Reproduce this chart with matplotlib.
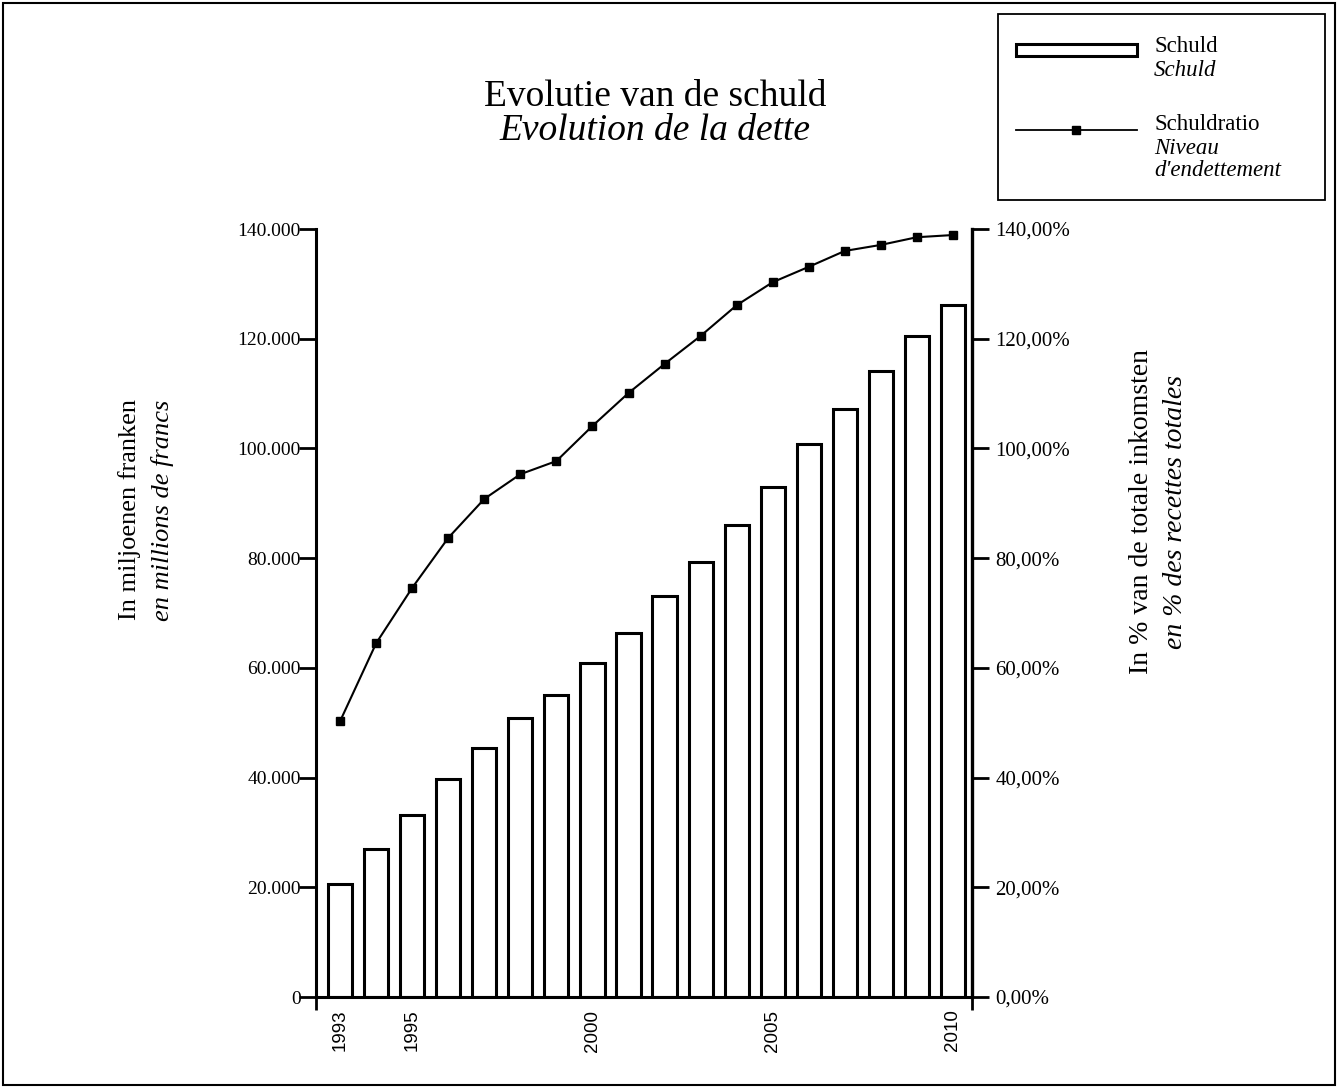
import matplotlib
matplotlib.use("Agg")
import matplotlib.pyplot as plt
from matplotlib.patches import Rectangle
from matplotlib.lines import Line2D
from matplotlib.ticker import FuncFormatter, FixedLocator

jaren = list(range(1993, 2011))
schuld = [20600, 27000, 33200, 39700, 45400, 50900, 55000, 60900, 66400,
          73100, 79300, 86000, 93000, 100800, 107200, 114100, 120500, 126100]
schuldratio = [50.3, 64.5, 74.6, 83.7, 90.8, 95.3, 97.7, 104.1, 110.1,
               115.4, 120.5, 126.1, 130.3, 133.1, 136.0, 137.1, 138.5, 138.9]
jaar_labels = [1993, 1995, 2000, 2005, 2010]

SERIF = "Liberation Serif"
SANS = "Liberation Sans"

W, H = 1338, 1088
fig = plt.figure(figsize=(W / 100, H / 100), dpi=100)


def fx(px):
    return px / W


def fy(py):
    return 1 - py / H


ax = fig.add_axes([fx(316), fy(997), fx(972) - fx(316), fy(229) - fy(997)])
x = list(range(len(jaren)))
ax.bar(x, schuld, width=0.67, color="white", edgecolor="black", linewidth=2.2, zorder=2)
ax.set_xlim(-0.67, len(jaren) - 1 + 0.53)
ax.set_ylim(0, 140000)
ax.set_yticks(range(0, 140001, 20000))
ax.yaxis.set_major_formatter(FuncFormatter(lambda v, p: "0" if v == 0 else f"{int(v):,}".replace(",", ".")))
ax.set_xticks([jaren.index(j) for j in jaar_labels])
ax.set_xticklabels([str(j) for j in jaar_labels], rotation=90, family=SANS, fontsize=13.5)
ax.xaxis.set_minor_locator(FixedLocator(list(ax.get_xlim())))
ax.tick_params(axis="x", which="major", length=0, pad=9)
ax.tick_params(axis="x", which="minor", length=9, width=2, direction="out")
ax.tick_params(axis="y", length=12, width=2, direction="out", labelsize=14, pad=-1)
for lab in ax.get_yticklabels():
    lab.set_family(SERIF)
ax.spines["top"].set_visible(False)
ax.spines["right"].set_visible(False)
for s in ("left", "bottom"):
    ax.spines[s].set_linewidth(2.2)

ax2 = ax.twinx()
ax2.plot(x, schuldratio, color="black", linewidth=1.5, marker="s", markersize=6, zorder=3)
ax2.set_ylim(0, 140)
ax2.set_yticks(range(0, 141, 20))
ax2.yaxis.set_major_formatter(FuncFormatter(lambda v, p: f"{v:.2f}".replace(".", ",") + "%"))
ax2.tick_params(axis="y", length=12, width=2, direction="out", labelsize=15, pad=5)
for lab in ax2.get_yticklabels():
    lab.set_family(SERIF)
for s in ("top", "left", "bottom"):
    ax2.spines[s].set_visible(False)
ax2.spines["right"].set_linewidth(2.4)

# titel
fig.text(fx(655), fy(97), "Evolutie van de schuld", ha="center", va="center", family=SERIF, fontsize=27)
fig.text(fx(655), fy(131), "Evolution de la dette", ha="center", va="center", family=SERIF,
         fontsize=27, style="italic")

# aslabels
fig.text(fx(130), fy(510), "In miljoenen franken", rotation=90, ha="center", va="center",
         family=SERIF, fontsize=19)
fig.text(fx(162), fy(510), "en millions de francs", rotation=90, ha="center", va="center",
         family=SERIF, fontsize=19, style="italic")
fig.text(fx(1142), fy(512), "In % van de totale inkomsten", rotation=90, ha="center", va="center",
         family=SERIF, fontsize=20)
fig.text(fx(1176), fy(512), "en % des recettes totales", rotation=90, ha="center", va="center",
         family=SERIF, fontsize=20, style="italic")

# legende
fig.patches.append(Rectangle((fx(998), fy(200)), fx(1325) - fx(998), fy(14) - fy(200),
                             transform=fig.transFigure, fill=False, edgecolor="black", linewidth=1.3))
fig.patches.append(Rectangle((fx(1016), fy(56)), fx(1137) - fx(1016), fy(44) - fy(56),
                             transform=fig.transFigure, facecolor="white", edgecolor="black", linewidth=2.2))
fig.lines.append(Line2D([fx(1016), fx(1137)], [fy(130), fy(130)], transform=fig.transFigure,
                        color="black", linewidth=1.3))
fig.lines.append(Line2D([fx(1076)], [fy(130)], transform=fig.transFigure, color="black",
                        marker="s", markersize=6, linestyle="none"))
fig.text(fx(1154), fy(47), "Schuld", va="center", family=SERIF, fontsize=16.5)
fig.text(fx(1154), fy(70), "Schuld", va="center", family=SERIF, fontsize=16.5, style="italic")
fig.text(fx(1154), fy(124), "Schuldratio", va="center", family=SERIF, fontsize=16.5)
fig.text(fx(1154), fy(149), "Niveau", va="center", family=SERIF, fontsize=16.5, style="italic")
fig.text(fx(1154), fy(171), "d'endettement", va="center", family=SERIF, fontsize=16.5, style="italic")

# kader rond de figuur
fig.patches.append(Rectangle((fx(3), fy(1085)), fx(1335) - fx(3), fy(3) - fy(1085),
                             transform=fig.transFigure, fill=False, edgecolor="black", linewidth=1.5))

fig.savefig("out.png", dpi=100)
